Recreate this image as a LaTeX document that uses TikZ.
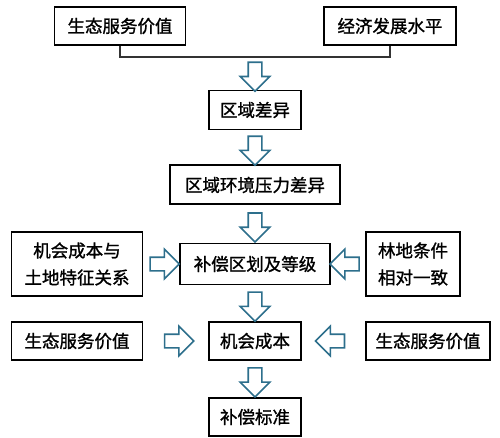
\documentclass[tikz,border=0pt]{standalone}
\usepackage{fontspec}
\newfontfamily\cjk[FakeBold=1.2]{Noto Sans CJK SC}
\usepackage{tikz}
\usetikzlibrary{positioning, calc, shapes.arrows}

\definecolor{arrblue}{HTML}{2D6F8C}

\tikzset{
  box/.style={draw, line width=1.4pt, inner sep=0pt, align=center,
    font=\cjk\fontsize{17.5}{27}\selectfont},
  fatarr/.style={single arrow, draw=arrblue, line width=1.6pt, fill=white,
    inner sep=6pt, minimum height=29pt, single arrow head extend=8pt,
    single arrow tip angle=90},
  downarr/.style={fatarr, shape border rotate=270},
  rightarr/.style={fatarr, shape border rotate=0},
  leftarr/.style={fatarr, shape border rotate=180},
}

\begin{document}
\begin{tikzpicture}[x=1pt, y=-1pt]
  \useasboundingbox (0,0) rectangle (500,438);

  % Top row
  \node[box, minimum width=131, minimum height=38] (eco1) at (120,26) {生态服务价值};
  \node[box, minimum width=132, minimum height=38] (econ) at (390,26) {经济发展水平};
  \coordinate (join) at (255,57);
  \draw[line width=1.2pt, black!80] (eco1.south) |- (join) -| (econ.south);

  % Main column
  \node[box, minimum width=92, minimum height=39] (diff) at (255,110) {区域差异};
  \node[box, line width=2pt, minimum width=170, minimum height=39] (press) at (255,185) {区域环境压力差异};
  \node[box, minimum width=150, minimum height=41] (zone) at (255,264) {补偿区划及等级};
  \node[box, minimum width=92, minimum height=38] (opp) at (255,341) {机会成本};
  \node[box, minimum width=92, minimum height=38] (std) at (255,417) {补偿标准};

  % Side boxes
  \node[box, minimum width=131, minimum height=64] (oppland) at (77,264) {机会成本与\\土地特征关系};
  \node[box, minimum width=94, minimum height=64] (forest) at (413,264) {林地条件\\相对一致};
  \node[box, minimum width=131, minimum height=38] (eco2) at (77,341) {生态服务价值};
  \node[box, line width=1.8pt, minimum width=124, minimum height=38] (eco3) at (428,341) {生态服务价值};

  % Block arrows
  \node[downarr] (a1) at ($(join)!0.5!(diff.north)$) {};
  \node[downarr] (a2) at ($(diff.south)!0.5!(press.north)$) {};
  \node[downarr] (a3) at ($(press.south)!0.5!(zone.north)$) {};
  \node[downarr] (a4) at ($(zone.south)!0.5!(opp.north)$) {};
  \node[downarr] (a5) at ($(opp.south)!0.5!(std.north)$) {};
  \node[rightarr] (l1) at ($(oppland.east)!0.5!(zone.west)$) {};
  \node[leftarr] (r1) at ($(zone.east)!0.5!(forest.west)$) {};
  \node[rightarr] (l2) at ($(eco2.east)!0.5!(opp.west)$) {};
  \node[leftarr] (r2) at ($(opp.east)!0.5!(eco3.west)$) {};
\end{tikzpicture}
\end{document}
